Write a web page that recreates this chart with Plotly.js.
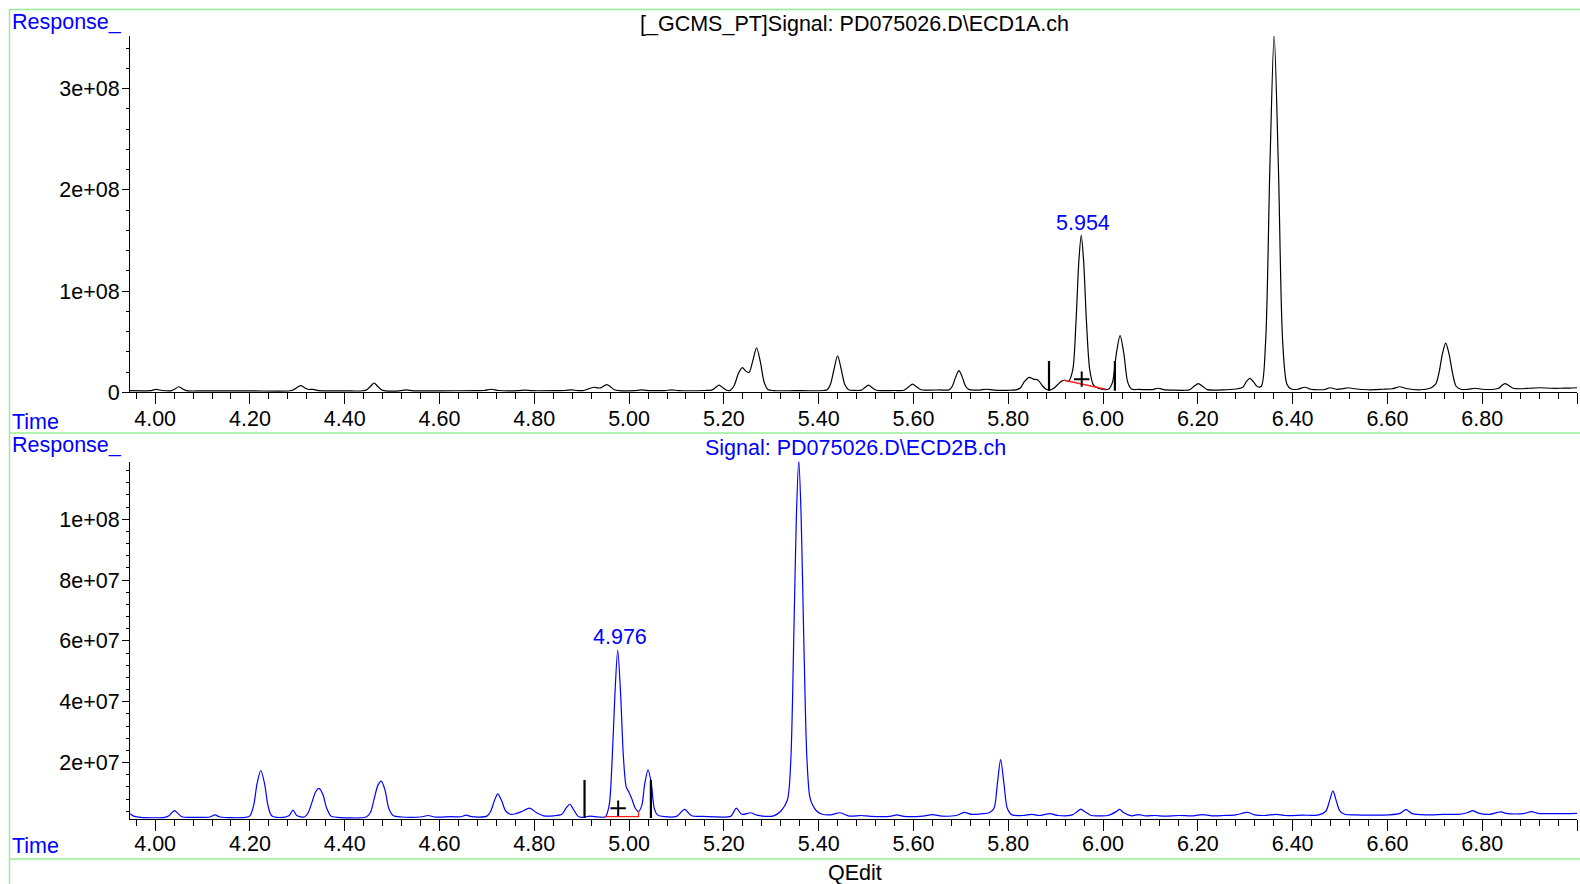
<!DOCTYPE html>
<html>
<head>
<meta charset="utf-8">
<script src="https://cdn.plot.ly/plotly-3.0.1.min.js"></script>
<style>html,body{margin:0;padding:0;background:#fff;}#chart{width:1580px;height:884px;}</style>
</head>
<body>
<div id="chart"></div>
<script>
// ---------- DATA ----------
// Signal 1: ECD1A (time in min, response)
const ecd1Time = [3.947,3.975,3.990,4.002,4.015,4.035,4.042,4.050,4.058,4.066,4.10,4.20,4.285,4.292,4.300,4.308,4.316,4.324,4.333,4.345,4.40,4.438,4.447,4.455,4.462,4.469,4.477,4.486,4.515,4.530,4.545,4.60,4.68,4.695,4.709,4.725,4.765,4.780,4.795,4.850,4.865,4.878,4.892,4.905,4.918,4.926,4.934,4.940,4.946,4.953,4.960,4.968,4.980,5.010,5.026,5.045,5.075,5.090,5.105,5.160,5.174,5.182,5.190,5.198,5.206,5.213,5.222,5.231,5.239,5.246,5.253,5.261,5.269,5.277,5.285,5.293,5.305,5.350,5.410,5.418,5.425,5.432,5.440,5.448,5.455,5.463,5.475,5.490,5.497,5.505,5.513,5.522,5.560,5.580,5.590,5.598,5.606,5.616,5.630,5.655,5.675,5.682,5.689,5.696,5.703,5.710,5.718,5.730,5.740,5.754,5.770,5.800,5.818,5.826,5.834,5.844,5.853,5.863,5.872,5.880,5.888,5.896,5.904,5.912,5.919,5.927,5.936,5.943,5.949,5.954,5.959,5.965,5.972,5.980,5.990,6.004,6.012,6.020,6.028,6.036,6.044,6.052,6.060,6.075,6.090,6.105,6.116,6.128,6.150,6.170,6.183,6.192,6.201,6.210,6.220,6.260,6.285,6.295,6.303,6.310,6.318,6.326,6.334,6.343,6.352,6.361,6.370,6.379,6.388,6.397,6.410,6.426,6.438,6.455,6.468,6.479,6.492,6.505,6.517,6.530,6.560,6.590,6.610,6.626,6.642,6.670,6.690,6.697,6.703,6.710,6.716,6.723,6.730,6.737,6.745,6.755,6.770,6.785,6.800,6.825,6.835,6.842,6.848,6.855,6.865,6.880,6.900,6.922,6.945,6.965,6.985,7.000];
const ecd1Response = [1.6e6,1.5e6,1.6e6,2.8e6,1.8e6,1.7e6,3.3e6,5.5e6,3.3e6,1.6e6,1.4e6,1.4e6,1.5e6,2.5e6,5.0e6,6.5e6,4.3e6,2.8e6,2.9e6,1.6e6,1.4e6,1.5e6,2.6e6,6.2e6,9.2e6,6.2e6,2.6e6,1.5e6,1.5e6,2.4e6,1.5e6,1.5e6,1.6e6,1.8e6,3.0e6,1.8e6,1.6e6,2.2e6,1.6e6,1.7e6,1.8e6,2.4e6,1.7e6,1.8e6,4.0e6,5.0e6,4.3e6,4.4e6,6.0e6,7.6e6,5.8e6,2.8e6,1.6e6,1.6e6,2.3e6,1.7e6,1.7e6,2.3e6,1.7e6,1.8e6,2.2e6,4.5e6,7.0e6,4.5e6,2.0e6,1.9e6,7.0e6,19.0e6,24.4e6,21.0e6,19.5e6,31.0e6,44.0e6,30.0e6,10.0e6,2.8e6,1.7e6,1.6e6,1.8e6,2.6e6,8.0e6,22.0e6,36.0e6,22.0e6,8.0e6,2.6e6,1.9e6,2.1e6,4.5e6,7.0e6,4.5e6,2.0e6,1.8e6,2.0e6,5.5e6,8.0e6,5.5e6,2.5e6,2.2e6,2.3e6,2.4e6,6.0e6,15.0e6,21.4e6,15.0e6,6.0e6,2.6e6,2.2e6,2.2e6,3.0e6,2.2e6,2.0e6,2.6e6,4.5e6,10.5e6,14.8e6,13.0e6,12.0e6,6.5e6,3.0e6,2.2e6,4.0e6,7.5e6,10.8e6,11.9e6,10.8e6,22.0e6,70.0e6,130.0e6,155.0e6,130.0e6,70.0e6,22.0e6,7.0e6,4.0e6,2.6e6,3.2e6,10.0e6,38.0e6,56.0e6,38.0e6,10.0e6,3.2e6,2.8e6,2.6e6,2.7e6,4.0e6,2.7e6,2.1e6,2.0e6,2.5e6,6.0e6,8.5e6,6.0e6,2.6e6,2.5e6,3.5e6,5.0e6,11.0e6,13.8e6,10.0e6,5.5e6,6.0e6,50.0e6,222.0e6,353.0e6,222.0e6,50.0e6,8.0e6,3.2e6,3.0e6,5.0e6,3.0e6,2.5e6,2.8e6,4.5e6,3.0e6,3.5e6,4.5e6,3.5e6,2.5e6,3.0e6,3.5e6,5.5e6,3.5e6,2.5e6,4.0e6,6.0e6,9.0e6,22.0e6,38.0e6,48.5e6,38.0e6,20.0e6,6.0e6,3.0e6,3.0e6,4.0e6,3.0e6,3.0e6,4.0e6,7.0e6,8.5e6,7.0e6,4.0e6,3.5e6,4.0e6,4.5e6,4.0e6,4.0e6,4.2e6,4.5e6];

// Signal 2: ECD2B
const ecd2Time = [3.947,3.955,3.970,4.020,4.030,4.035,4.041,4.048,4.056,4.090,4.115,4.126,4.137,4.190,4.200,4.208,4.215,4.223,4.231,4.238,4.246,4.270,4.283,4.291,4.299,4.315,4.323,4.331,4.339,4.346,4.354,4.362,4.371,4.385,4.445,4.454,4.462,4.470,4.477,4.485,4.493,4.502,4.520,4.560,4.576,4.590,4.624,4.645,4.656,4.668,4.700,4.708,4.716,4.723,4.731,4.740,4.750,4.759,4.775,4.790,4.805,4.820,4.841,4.858,4.867,4.875,4.883,4.892,4.900,4.918,4.935,4.950,4.958,4.964,4.970,4.976,4.982,4.988,4.994,5.000,5.006,5.013,5.020,5.027,5.033,5.040,5.047,5.053,5.060,5.075,5.100,5.117,5.132,5.155,5.215,5.226,5.238,5.257,5.270,5.281,5.305,5.320,5.334,5.341,5.348,5.353,5.358,5.363,5.368,5.375,5.381,5.387,5.396,5.406,5.425,5.445,5.465,5.490,5.510,5.550,5.565,5.580,5.620,5.640,5.660,5.690,5.707,5.722,5.745,5.760,5.770,5.777,5.784,5.791,5.798,5.808,5.830,5.850,5.865,5.888,5.905,5.935,5.945,5.953,5.962,5.975,5.995,6.010,6.027,6.035,6.043,6.060,6.075,6.090,6.110,6.130,6.160,6.190,6.210,6.230,6.255,6.280,6.305,6.320,6.340,6.365,6.385,6.420,6.455,6.470,6.478,6.485,6.492,6.500,6.510,6.530,6.560,6.600,6.625,6.639,6.653,6.680,6.720,6.750,6.770,6.780,6.792,6.815,6.832,6.840,6.850,6.870,6.890,6.904,6.918,6.950,6.975,7.000];
const ecd2Response = [3.2e6,2.4e6,2.0e6,2.0e6,2.6e6,3.5e6,4.2e6,3.3e6,2.2e6,2.0e6,2.1e6,2.8e6,2.1e6,2.0e6,2.5e6,6.0e6,13.0e6,17.4e6,13.0e6,6.0e6,2.5e6,2.0e6,2.6e6,4.4e6,2.6e6,2.1e6,3.5e6,7.0e6,10.5e6,11.5e6,9.5e6,5.0e6,2.4e6,2.0e6,2.1e6,3.5e6,8.0e6,12.5e6,13.9e6,11.0e6,5.0e6,2.6e6,2.1e6,2.1e6,2.6e6,2.1e6,2.2e6,2.2e6,2.7e6,2.2e6,2.4e6,4.0e6,7.5e6,9.7e6,7.5e6,4.0e6,3.0e6,3.1e6,4.0e6,5.0e6,3.5e6,2.5e6,2.5e6,3.0e6,5.0e6,6.3e6,4.5e6,2.4e6,2.0e6,2.4e6,2.1e6,2.2e6,6.0e6,20.0e6,42.0e6,57.0e6,43.0e6,22.0e6,12.0e6,10.2e6,8.0e6,5.0e6,3.9e6,6.0e6,13.0e6,17.6e6,13.0e6,5.0e6,2.8e6,2.2e6,2.3e6,4.6e6,2.5e6,2.3e6,2.4e6,5.0e6,3.0e6,3.5e6,2.7e6,2.4e6,2.5e6,4.0e6,7.7e6,20.0e6,65.0e6,101.0e6,119.5e6,101.0e6,65.0e6,22.0e6,9.0e6,6.1e6,4.0e6,3.1e6,2.8e6,3.5e6,2.4e6,2.6e6,2.3e6,2.3e6,2.8e6,2.3e6,2.4e6,2.9e6,2.4e6,2.6e6,3.6e6,3.0e6,3.2e6,3.5e6,5.0e6,13.0e6,21.0e6,13.0e6,5.0e6,2.8e6,2.6e6,3.0e6,2.6e6,3.2e6,2.6e6,2.8e6,3.8e6,4.7e6,3.8e6,2.6e6,2.5e6,2.6e6,3.8e6,4.6e6,3.6e6,2.5e6,2.9e6,2.5e6,2.6e6,2.4e6,2.6e6,2.5e6,2.9e6,2.5e6,2.6e6,2.8e6,3.6e6,2.8e6,2.6e6,3.0e6,2.6e6,2.7e6,2.8e6,4.0e6,7.5e6,10.7e6,7.5e6,4.0e6,3.0e6,2.8e6,2.7e6,2.8e6,3.2e6,4.5e6,3.2e6,2.8e6,3.0e6,3.0e6,3.6e6,4.2e6,3.4e6,3.0e6,3.6e6,3.8e6,3.3e6,3.1e6,3.3e6,3.9e6,3.3e6,3.2e6,3.2e6,3.3e6];

// integration marks (peak start/end ticks, baseline, apex cross)
const ecd1PeakLabel = "5.954", ecd1PeakTime = 5.954, ecd1PeakValue = 155e6;
const ecd1MarkTimes = [5.886, 6.025];
const ecd1MarkRange = [1.6e6, 31e6];
const ecd1BaseTime = [5.918, 6.006];
const ecd1BaseValue = [11.9e6, 3.0e6];
const ecd1Cross = [5.955, 13e6];

const ecd2PeakLabel = "4.976", ecd2PeakTime = 4.976, ecd2PeakValue = 57e6;
const ecd2MarkTimes = [4.906, 5.046];
const ecd2MarkRange = [1.8e6, 14.3e6];
const ecd2BaseTime = [4.949, 5.020, 5.020];
const ecd2BaseValue = [2.2e6, 2.2e6, 3.9e6];
const ecd2Cross = [4.977, 5.0e6];

const xTickStart = 4.0, xTickStep = 0.2;
const y1TickVals = [0, 1e8, 2e8, 3e8];
const y1TickText = ["0", "1e+08", "2e+08", "3e+08"];
const y2TickVals = [2e7, 4e7, 6e7, 8e7, 1e8];
const y2TickText = ["2e+07", "4e+07", "6e+07", "8e+07", "1e+08"];

const title1 = "[_GCMS_PT]Signal: PD075026.D\\ECD1A.ch";
const title2 = "Signal: PD075026.D\\ECD2B.ch";

// ---------- PLOT ----------
const W = 1580, H = 884;
const FONT = "Liberation Sans, Arial, Helvetica, sans-serif";
const FS = 21.5;
const BLUE = "#0000FF";
const GREEN = "rgb(150,238,150)";
const px = x => x / W;
const py = y => 1 - y / H;

function markLines(times, range, xa, ya) {
  const xs = [], ys = [];
  times.forEach(t => { xs.push(t, t, null); ys.push(range[0], range[1], null); });
  return {x: xs, y: ys, xaxis: xa, yaxis: ya, mode: "lines", line: {color: "black", width: 2.2}, hoverinfo: "skip", showlegend: false};
}

const traces = [
  {x: ecd1Time, y: ecd1Response, xaxis: "x", yaxis: "y", mode: "lines", line: {color: "black", width: 1.2, shape: "spline", smoothing: 0.8}, showlegend: false},
  {x: ecd1BaseTime, y: ecd1BaseValue, xaxis: "x", yaxis: "y", mode: "lines", line: {color: "#FF2020", width: 1.3}, showlegend: false},
  markLines(ecd1MarkTimes, ecd1MarkRange, "x", "y"),
  {x: [ecd1Cross[0]], y: [ecd1Cross[1]], xaxis: "x", yaxis: "y", mode: "markers", marker: {symbol: "cross-thin", size: 11, color: "black", line: {width: 2, color: "black"}}, showlegend: false},

  {x: ecd2Time, y: ecd2Response, xaxis: "x2", yaxis: "y2", mode: "lines", line: {color: BLUE, width: 1.2, shape: "spline", smoothing: 0.8}, showlegend: false},
  {x: ecd2BaseTime, y: ecd2BaseValue, xaxis: "x2", yaxis: "y2", mode: "lines", line: {color: "#FF2020", width: 1.3}, showlegend: false},
  markLines(ecd2MarkTimes, ecd2MarkRange, "x2", "y2"),
  {x: [ecd2Cross[0]], y: [ecd2Cross[1]], xaxis: "x2", yaxis: "y2", mode: "markers", marker: {symbol: "cross-thin", size: 11, color: "black", line: {width: 2, color: "black"}}, showlegend: false}
];

const tickFont = {family: FONT, size: FS, color: "black"};
function xAxis(anchor, standoff) {
  return {
    anchor: anchor, domain: [px(130), px(1577)], range: [3.947, 7.0],
    tickmode: "linear", tick0: xTickStart, dtick: xTickStep, tickformat: ".2f",
    ticks: "outside", ticklen: 11, tickwidth: 1, tickcolor: "black",
    minor: {tickmode: "linear", tick0: xTickStart, dtick: 0.04, ticks: "outside", ticklen: 6, tickwidth: 1, tickcolor: "black", showgrid: false},
    showline: true, linecolor: "black", linewidth: 1, showgrid: false, zeroline: false,
    tickfont: tickFont, ticklabelstandoff: standoff, fixedrange: true
  };
}
function yAxis(anchor, dom, range, vals, text, minorStep) {
  return {
    anchor: anchor, domain: dom, range: range,
    tickmode: "array", tickvals: vals, ticktext: text,
    ticks: "outside", ticklen: 7, tickwidth: 1, tickcolor: "black",
    minor: {tickmode: "linear", tick0: 0, dtick: minorStep, ticks: "outside", ticklen: 3, tickwidth: 1, tickcolor: "black", showgrid: false},
    showline: true, linecolor: "black", linewidth: 1, showgrid: false, zeroline: false,
    tickfont: tickFont, ticklabelstandoff: -2, fixedrange: true
  };
}

const ann = (text, x, y, color, xanchor) => ({
  text: text, xref: "paper", yref: "paper", x: px(x), y: py(y), xanchor: xanchor || "center", yanchor: "middle",
  showarrow: false, font: {family: FONT, size: FS, color: color}
});

const layout = {
  width: W, height: H,
  margin: {l: 0, r: 0, t: 0, b: 0},
  paper_bgcolor: "white", plot_bgcolor: "white",
  xaxis: xAxis("y", -4),
  yaxis: yAxis("x", [py(392.3), py(36)], [0, 3.52e8], y1TickVals, y1TickText, 2e7),
  xaxis2: xAxis("y2", -6),
  yaxis2: yAxis("x2", [py(819), py(461.5)], [1.45e6, 1.19e8], y2TickVals, y2TickText, 4e6),
  annotations: [
    ann("Response_", 10, 22, BLUE, "left"),
    ann(title1, 854, 24, "black"),
    ann("Time", 10, 422, BLUE, "left"),
    ann("Response_", 10, 445, BLUE, "left"),
    ann(title2, 855, 448, BLUE),
    ann("Time", 10, 846, BLUE, "left"),
    ann("QEdit", 855, 873, "black"),
    {text: ecd1PeakLabel, x: ecd1PeakTime, y: ecd1PeakValue, xref: "x", yref: "y", xanchor: "center", yanchor: "bottom", yshift: -2, xshift: 2, showarrow: false, font: {family: FONT, size: FS, color: BLUE}},
    {text: ecd2PeakLabel, x: ecd2PeakTime, y: ecd2PeakValue, xref: "x2", yref: "y2", xanchor: "center", yanchor: "bottom", yshift: -1, xshift: 2, showarrow: false, font: {family: FONT, size: FS, color: BLUE}}
  ],
  shapes: [
    {type: "line", xref: "paper", yref: "paper", x0: px(9), x1: 1.01, y0: py(9.5), y1: py(9.5), line: {color: GREEN, width: 1.5}},
    {type: "line", xref: "paper", yref: "paper", x0: px(9), x1: 1.01, y0: py(433), y1: py(433), line: {color: GREEN, width: 1.5}},
    {type: "line", xref: "paper", yref: "paper", x0: px(9), x1: 1.01, y0: py(859), y1: py(859), line: {color: GREEN, width: 1.5}},
    {type: "line", xref: "paper", yref: "paper", x0: px(9.5), x1: px(9.5), y0: py(9.5), y1: 0, line: {color: GREEN, width: 1.5}}
  ]
};

Plotly.newPlot("chart", traces, layout, {staticPlot: true, displayModeBar: false});
</script>
</body>
</html>
